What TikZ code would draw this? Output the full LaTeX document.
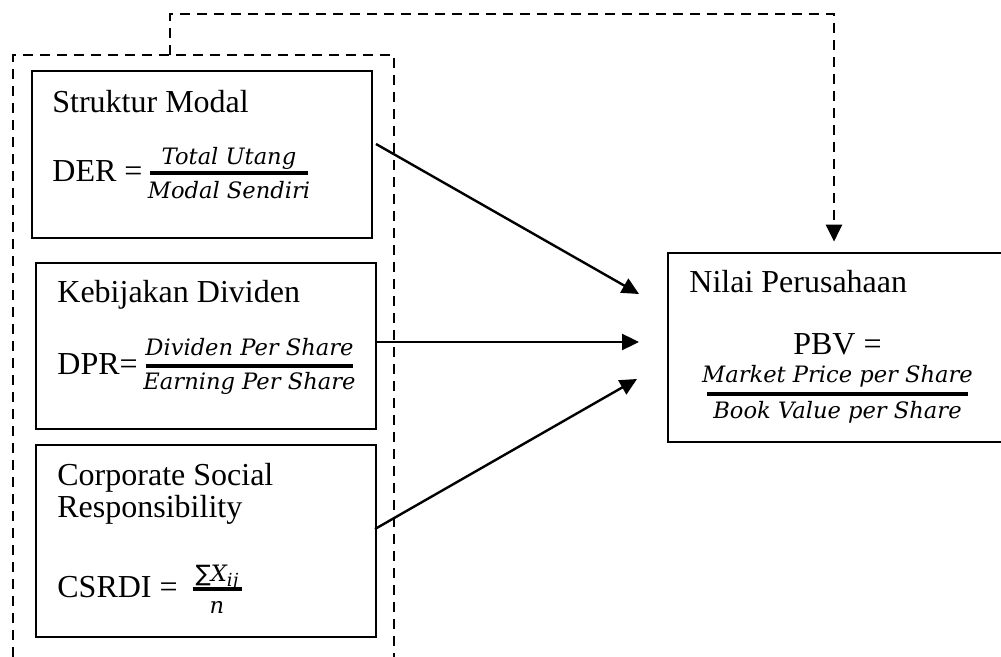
\documentclass[tikz,border=0pt]{standalone}
\usepackage{fontspec}
\setmainfont{Liberation Serif}
\newfontfamily\fracfont{DejaVu Serif}
\newfontfamily\symfont{DejaVu Sans}
\usetikzlibrary{arrows.meta}

\begin{document}
\begin{tikzpicture}[x=0.5pt,y=-0.5pt,
  box/.style={draw, line width=1.35pt, rectangle, inner sep=0pt},
  lbl/.style={anchor=base west, inner sep=0pt, font=\fontsize{16}{19}\selectfont},
  fpart/.style={anchor=base, inner sep=0pt, font=\fracfont\itshape\fontsize{11.3}{13}\selectfont},
  fbar/.style={line width=1.7pt},
  tip/.style={-{Triangle[length=8.5pt,width=8pt]}},
  link/.style={line width=1.2pt, tip},
  grp/.style={line width=1.4pt, dash pattern=on 5pt off 3.5pt}
]
\useasboundingbox (0,0) rectangle (1001,657);
\fill[white] (0,0) rectangle (1001,657);
\clip (0,0) rectangle (1001,657);

% independent variable boxes
\node[box, minimum width=170pt, minimum height=83.5pt] (b1) at (202,154.5) {};
\node[box, minimum width=170pt, minimum height=83pt]   (b2) at (206,346) {};
\node[box, minimum width=170pt, minimum height=96pt]   (b3) at (206,541) {};
% dependent variable box (its right side runs off the page)
\node[box, minimum width=168pt, minimum height=94.5pt] (pv) at (836,347.5) {};

% Struktur Modal
\node[lbl] (t1) at (52,113) {Struktur Modal};
\node[lbl] (e1) at (52,182) {DER =};
\node[fpart] (n1) at (229,165) {Total Utang};
\draw[fbar] (150,173) -- (308,173);
\node[fpart] (d1) at (229,199) {Modal Sendiri};

% Kebijakan Dividen
\node[lbl] (t2) at (57,303) {Kebijakan Dividen};
\node[lbl] (e2) at (57,375) {DPR=};
\node[fpart] (n2) at (249.5,356) {Dividen Per Share};
\draw[fbar] (146,366) -- (353,366);
\node[fpart] (d2) at (249.5,390) {Earning Per Share};

% Corporate Social Responsibility
\node[lbl] (t3a) at (57,485) {Corporate Social};
\node[lbl] (t3b) at (57,517) {Responsibility};
\node[lbl] (e3) at (57,597) {CSRDI =};
\node[fpart] (n3) at (217,581) {{\symfont\upshape ∑}X\raisebox{-2.5pt}{\fontsize{9}{10}\selectfont ij}};
\draw[fbar] (193,589) -- (242,589);
\node[fpart] (d3) at (217,613) {n};

% Nilai Perusahaan
\node[lbl] (t4) at (689,293) {Nilai Perusahaan};
\node[lbl, anchor=base] (e4) at (837.5,355) {PBV =};
\node[fpart] (n4) at (837.5,383) {Market Price per Share};
\draw[fbar] (707,394) -- (968,394);
\node[fpart] (d4) at (837.5,419) {Book Value per Share};

% dashed group around the three independent variables
\draw[grp] (13,657) -- (13,55) -- (394,55) -- (394,657);

% dashed joint-effect connector
\coordinate (fb0) at (170,55);
\coordinate (fbc) at (834,14);
\draw[grp, tip, shorten >=5pt] (fb0) |- (fbc) -- (fbc |- pv.north);

% partial-effect arrows
\coordinate (s1) at (376,144);
\coordinate (s2) at (376,342);
\coordinate (s3) at (375,529);
\coordinate (a1) at (639,294);
\coordinate (a2) at (639,342);
\coordinate (a3) at (637,379);
\draw[link] (s1) -- (a1);
\draw[link] (s2) -- (a2);
\draw[link] (s3) -- (a3);
\end{tikzpicture}
\end{document}
